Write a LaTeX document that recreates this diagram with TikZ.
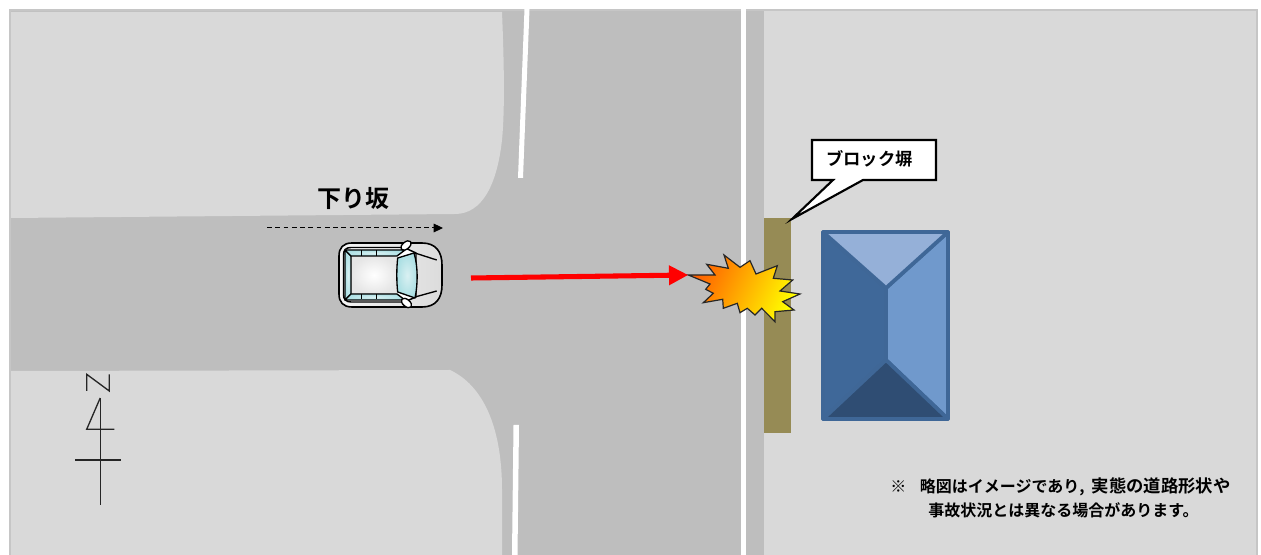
\documentclass[tikz,border=0pt]{standalone}
\usepackage{fontspec}
\setmainfont{Noto Sans CJK JP}[BoldFont={Noto Sans CJK JP Bold}]
\usetikzlibrary{arrows.meta}
\definecolor{lightarea}{HTML}{D9D9D9}
\definecolor{roadgray}{HTML}{BEBEBE}
\definecolor{framegray}{HTML}{C6C6C6}
\definecolor{wallcol}{HTML}{968B55}
\definecolor{roofedge}{HTML}{3F6797}
\definecolor{rooftop}{HTML}{95B0D8}
\definecolor{roofright}{HTML}{7099CC}
\definecolor{roofleft}{HTML}{3F6899}
\definecolor{roofbottom}{HTML}{2F4D73}
\definecolor{glass}{HTML}{ABDFE3}
\tikzset{
  block/.style={fill=lightarea,draw=none},
  whiteline/.style={fill=white,draw=none},
  carline/.style={draw=black,line width=1pt,line join=round},
  carglass/.style={carline,inner color=glass!45,outer color=glass},
  symline/.style={draw=black!85,line width=1pt},
  roofpart/.style={draw=roofedge,line width=2.8pt,line join=round},
  notetext/.style={font=\fontsize{12}{14}\selectfont\bfseries,text=black,inner sep=0pt}
}
\begin{document}
\begin{tikzpicture}[x=0.75pt,y=-0.75pt]
\useasboundingbox (0,0) rectangle (1261,555);
\fill[white] (0,0) rectangle (1261,555);
% road surface and frame
\fill[framegray] (9,9) rectangle (1258,555);
\fill[roadgray] (11,11) rectangle (1256,555);
% corner blocks
\path[block] (11,12) -- (502,12) .. controls (504,60) and (505,110) .. (502,140)
  .. controls (497,185) and (482,214) .. (455,214) -- (11,218) -- cycle;
\path[block] (11,371) -- (450,370) .. controls (482,385) and (502,425) .. (502,490) -- (502,555) -- (11,555) -- cycle;
\path[block] (764,11) rectangle (1256,555);
% white lines
\path[whiteline] (524.5,9) -- (529.5,9) -- (523,178) -- (518,178) -- cycle;
\path[whiteline] (513.5,425) -- (519,425) -- (517.5,555) -- (512,555) -- cycle;
\path[whiteline] (741,9) rectangle (746,555);
% block wall
\fill[wallcol] (764,218) rectangle (791,433);
% house
\filldraw[roofpart,fill=roofleft] (823,232) -- (886,288) -- (886,360) -- (823,419) -- cycle;
\filldraw[roofpart,fill=roofright] (948,232) -- (886,288) -- (886,360) -- (948,419) -- cycle;
\filldraw[roofpart,fill=rooftop] (823,232) -- (948,232) -- (886,288) -- cycle;
\filldraw[roofpart,fill=roofbottom] (823,419) -- (886,360) -- (948,419) -- cycle;
% callout
\filldraw[draw=black,fill=white,line width=1.6pt,line join=miter]
  (812,140) -- (936,140) -- (936,180) -- (863,180) -- (792,219) -- (833,180) -- (812,180) -- cycle;
\node[inner sep=0pt,font=\fontsize{13}{14}\selectfont\bfseries] (wallLabel) at (869.5,159) {ブロック塀};
% car
\filldraw[carline,left color=black!4,right color=black!14,line width=1.2pt] (352,243) -- (422,243) .. controls (436,243) and (442,252) .. (442,265)
  -- (442,285) .. controls (442,298) and (436,307) .. (422,307) -- (352,307)
  .. controls (343,307) and (339,302) .. (339,294) -- (339,256) .. controls (339,248) and (343,243) .. (352,243) -- cycle;
\filldraw[carline,fill=white,line width=1.1pt] (351,247.5) -- (404,247.5) -- (416,253) -- (416,297) -- (404,302) -- (351,302)
  .. controls (346,302) and (343.5,299) .. (343.5,295) -- (343.5,255) .. controls (343.5,250) and (346,247.5) .. (351,247.5) -- cycle;
\draw[carline] (415,253) -- (436.7,260) (415,297) -- (436.7,291);
\shade[inner color=white,outer color=black!10] (351,256) rectangle (397,294);
\filldraw[carglass] (345,250) -- (351,256) -- (351,294) -- (345,300) -- cycle;
\filldraw[carglass] (345,250) -- (405,250) -- (397,256) -- (351,256) -- cycle;
\filldraw[carglass] (345,300) -- (405,300) -- (397,294) -- (351,294) -- cycle;
\filldraw[carglass] (397.7,258) -- (414,253) .. controls (418,266) and (418,284) .. (415,298) -- (397.7,292) .. controls (396.5,282) and (396.5,268) .. (397.7,258) -- cycle;
\draw[carline,line width=0.7pt] (376,250.5) -- (376,256) (361,250.5) -- (361,256) (376,294) -- (376,299.5) (361,294) -- (361,299.5);
\filldraw[carline,fill=white,rotate around={40:(406,245.5)}] (406,245.5) ellipse (6 and 3.5);
\filldraw[carline,fill=white,rotate around={-40:(406.5,303)}] (406.5,303) ellipse (6 and 3.5);
% explosion
\coordinate (impact) at (688.3,275);
\shade[left color=orange!75!red,middle color=yellow!92!orange,right color=yellow,shading angle=65]
  (impact) -- (715,275) -- (706.7,264.3) -- (728.3,268.3) -- (724,255) -- (740,267.3) -- (750,260.7) -- (756,274) -- (777.3,265.7)
  -- (773.3,278.3) -- (792.7,280) -- (780,291) -- (800,294) -- (782.7,301.7) -- (794,310) -- (775,311.7) -- (775,321.7)
  -- (761.7,308.3) -- (755,315) -- (747.3,308.3) -- (740,312.7) -- (737.3,303.3) -- (723.3,308.3) -- (722.7,299.3)
  -- (703.3,302.7) -- (713.3,293.3) -- (705.7,289.3) -- (710,284) -- cycle;
\draw[draw=black!85,line width=0.9pt,line join=miter]
  (impact) -- (715,275) -- (706.7,264.3) -- (728.3,268.3) -- (724,255) -- (740,267.3) -- (750,260.7) -- (756,274) -- (777.3,265.7)
  -- (773.3,278.3) -- (792.7,280) -- (780,291) -- (800,294) -- (782.7,301.7) -- (794,310) -- (775,311.7) -- (775,321.7)
  -- (761.7,308.3) -- (755,315) -- (747.3,308.3) -- (740,312.7) -- (737.3,303.3) -- (723.3,308.3) -- (722.7,299.3)
  -- (703.3,302.7) -- (713.3,293.3) -- (705.7,289.3) -- (710,284) -- cycle;
% motion arrows
\coordinate (redStart) at (471,278);
\draw[red,line width=3.8pt,-{Triangle[length=14.5pt,width=14pt]}] (redStart) -- (impact);
\coordinate (slopeStart) at (267,228);
\coordinate (slopeEnd) at (443,228);
\draw[black,line width=0.75pt,dash pattern=on 3.6pt off 2.6pt,-{Triangle[length=7pt,width=6.5pt]}] (slopeStart) -- (slopeEnd);
\node[inner sep=0pt,font=\fontsize{18}{20}\selectfont\bfseries] (slopeLabel) at (353,198) {下り坂};
% north symbol
\draw[symline] (86.7,391) -- (86.7,374.3) -- (109.3,391) -- (109.3,374.3);
\draw[symline] (100.2,398) -- (100.2,505);
\draw[symline] (100.2,398) -- (86.7,429.3) -- (114.3,429.3);
\draw[symline] (75,460) -- (121,460);
% note
\node[notetext,anchor=west] (noteA) at (890,487) {※\hspace{0.85em}略図はイメージであり,\hspace{0.45em}{\fontsize{13}{14}\selectfont 実態の道路形状や}};
\node[notetext,anchor=west] (noteB) at (928,510) {事故状況とは異なる場合があります。};
\end{tikzpicture}
\end{document}
